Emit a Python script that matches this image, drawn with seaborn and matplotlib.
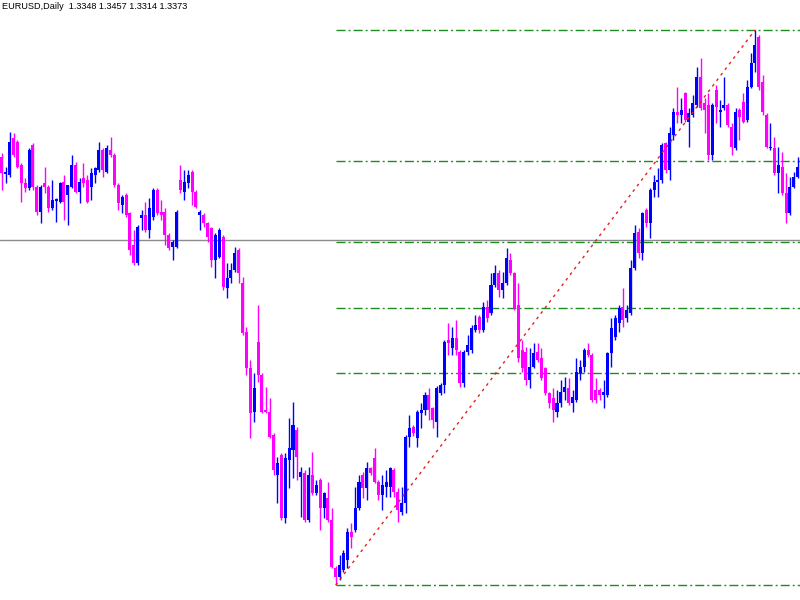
import numpy as np
import pandas as pd
import matplotlib
matplotlib.use("Agg")
import matplotlib.pyplot as plt
import seaborn as sns

symbol_label = "EURUSD,Daily"
header_ohlc = [1.3348, 1.3457, 1.3314, 1.3373]
bid_price = 1.3373
fib_ratios = [0.0, 0.382, 0.5, 0.618, 0.764, 1.0]

opens = [1.3729, 1.3656, 1.3651, 1.3811, 1.3793, 1.3694, 1.3617, 1.3596, 1.3780, 1.3600,
         1.3492, 1.3617, 1.3600, 1.3510, 1.3540, 1.3535, 1.3621, 1.3565, 1.3600, 1.3694,
         1.3578, 1.3639, 1.3630, 1.3600, 1.3651, 1.3673, 1.3759, 1.3664, 1.3759, 1.3737,
         1.3608, 1.3522, 1.3565, 1.3488, 1.3350, 1.3273, 1.3467, 1.3479, 1.3415, 1.3471,
         1.3587, 1.3492, 1.3492, 1.3393, 1.3342, 1.3342, 1.3630, 1.3578, 1.3617, 1.3664,
         1.3578, 1.3479, 1.3479, 1.3445, 1.3424, 1.3286, 1.3299, 1.3385, 1.3166, 1.3209,
         1.3243, 1.3329, 1.3187, 1.2976, 1.2822, 1.2632, 1.2933, 1.2791, 1.2641, 1.2632,
         1.2533, 1.2361, 1.2447, 1.2177, 1.2426, 1.2469, 1.2555, 1.2353, 1.2370, 1.2168,
         1.2361, 1.2284, 1.2340, 1.2220, 1.2263, 1.2168, 1.1962, 1.1923, 1.1953, 1.1996,
         1.2116, 1.2125, 1.2220, 1.2361, 1.2306, 1.2392, 1.2435, 1.2331, 1.2275, 1.2310,
         1.2310, 1.2383, 1.2288, 1.2202, 1.2241, 1.2525, 1.2568, 1.2521, 1.2628, 1.2641,
         1.2705, 1.2650, 1.2589, 1.2714, 1.2748, 1.2942, 1.2908, 1.2951, 1.2890, 1.2757,
         1.2890, 1.2899, 1.2985, 1.3041, 1.2985, 1.3084, 1.3058, 1.3178, 1.3230, 1.3157,
         1.3187, 1.3286, 1.3230, 1.3092, 1.2899, 1.2890, 1.2770, 1.2826, 1.2890, 1.2865,
         1.2822, 1.2714, 1.2693, 1.2632, 1.2671, 1.2718, 1.2736, 1.2671, 1.2684, 1.2800,
         1.2826, 1.2899, 1.2877, 1.2727, 1.2727, 1.2705, 1.2705, 1.2886, 1.2955, 1.3015,
         1.3084, 1.3037, 1.3058, 1.3252, 1.3406, 1.3316, 1.3501, 1.3445, 1.3587, 1.3621,
         1.3630, 1.3789, 1.3673, 1.3823, 1.3922, 1.3909, 1.4004, 1.3879, 1.3909, 1.3952,
         1.4073, 1.3961, 1.3952, 1.3737, 1.4017, 1.3922, 1.3940, 1.3952, 1.3858, 1.3768,
         1.3931, 1.3965, 1.3888, 1.4030, 1.4133, 1.4245, 1.4051, 1.3909, 1.3768, 1.3768,
         1.3660, 1.3686, 1.3574, 1.3488, 1.3600, 1.3643]

highs = [1.3746, 1.3686, 1.3836, 1.3832, 1.3802, 1.3703, 1.3639, 1.3768, 1.3789, 1.3608,
         1.3608, 1.3686, 1.3608, 1.3630, 1.3553, 1.3621, 1.3651, 1.3608, 1.3737, 1.3707,
         1.3639, 1.3703, 1.3651, 1.3682, 1.3686, 1.3793, 1.3768, 1.3780, 1.3815, 1.3746,
         1.3617, 1.3565, 1.3574, 1.3492, 1.3415, 1.3436, 1.3501, 1.3535, 1.3553, 1.3596,
         1.3596, 1.3544, 1.3510, 1.3402, 1.3372, 1.3501, 1.3694, 1.3673, 1.3673, 1.3673,
         1.3587, 1.3501, 1.3488, 1.3449, 1.3428, 1.3402, 1.3424, 1.3393, 1.3273, 1.3273,
         1.3342, 1.3338, 1.3213, 1.2998, 1.2856, 1.2800, 1.3092, 1.2800, 1.2740, 1.2693,
         1.2542, 1.2439, 1.2456, 1.2456, 1.2607, 1.2675, 1.2568, 1.2396, 1.2383, 1.2396,
         1.2460, 1.2340, 1.2349, 1.2288, 1.2331, 1.2220, 1.1970, 1.2017, 1.2039, 1.2134,
         1.2155, 1.2310, 1.2361, 1.2374, 1.2417, 1.2396, 1.2478, 1.2340, 1.2361, 1.2383,
         1.2396, 1.2392, 1.2306, 1.2310, 1.2533, 1.2619, 1.2576, 1.2641, 1.2671, 1.2718,
         1.2736, 1.2654, 1.2744, 1.2757, 1.2942, 1.3015, 1.2998, 1.3028, 1.2899, 1.2899,
         1.2963, 1.3006, 1.3049, 1.3049, 1.3105, 1.3114, 1.3230, 1.3264, 1.3243, 1.3234,
         1.3338, 1.3316, 1.3234, 1.3187, 1.2942, 1.2912, 1.2908, 1.2929, 1.2929, 1.2908,
         1.2826, 1.2718, 1.2736, 1.2727, 1.2770, 1.2783, 1.2779, 1.2727, 1.2865, 1.2856,
         1.2908, 1.2929, 1.2886, 1.2779, 1.2736, 1.2770, 1.2890, 1.3037, 1.3049, 1.3092,
         1.3166, 1.3092, 1.3286, 1.3436, 1.3424, 1.3492, 1.3510, 1.3596, 1.3651, 1.3682,
         1.3789, 1.3793, 1.3858, 1.3940, 1.4030, 1.3983, 1.4008, 1.3940, 1.3995, 1.4116,
         1.4155, 1.3983, 1.4004, 1.3961, 1.4038, 1.3974, 1.4073, 1.3961, 1.3875, 1.3940,
         1.3940, 1.4004, 1.4060, 1.4176, 1.4275, 1.4253, 1.4081, 1.3918, 1.3875, 1.3815,
         1.3772, 1.3750, 1.3660, 1.3643, 1.3664, 1.3729]

lows = [1.3587, 1.3617, 1.3643, 1.3729, 1.3682, 1.3535, 1.3578, 1.3587, 1.3587, 1.3479,
        1.3445, 1.3574, 1.3492, 1.3501, 1.3449, 1.3531, 1.3458, 1.3436, 1.3596, 1.3574,
        1.3531, 1.3600, 1.3531, 1.3544, 1.3617, 1.3664, 1.3643, 1.3660, 1.3729, 1.3600,
        1.3501, 1.3488, 1.3471, 1.3307, 1.3264, 1.3264, 1.3415, 1.3406, 1.3381, 1.3458,
        1.3479, 1.3458, 1.3350, 1.3329, 1.3286, 1.3338, 1.3574, 1.3544, 1.3596, 1.3522,
        1.3510, 1.3415, 1.3428, 1.3363, 1.3256, 1.3209, 1.3295, 1.3157, 1.3123, 1.3187,
        1.3234, 1.3187, 1.2963, 1.2791, 1.2521, 1.2589, 1.2761, 1.2628, 1.2628, 1.2521,
        1.2361, 1.2241, 1.2168, 1.2155, 1.2306, 1.2349, 1.2340, 1.2181, 1.2159, 1.2159,
        1.2275, 1.2275, 1.2125, 1.2177, 1.2159, 1.1962, 1.1888, 1.1910, 1.1944, 1.1962,
        1.2048, 1.2116, 1.2211, 1.2263, 1.2254, 1.2361, 1.2327, 1.2254, 1.2211, 1.2267,
        1.2267, 1.2267, 1.2159, 1.2189, 1.2198, 1.2482, 1.2529, 1.2482, 1.2564, 1.2619,
        1.2598, 1.2564, 1.2525, 1.2705, 1.2714, 1.2877, 1.2877, 1.2877, 1.2740, 1.2740,
        1.2877, 1.2886, 1.2976, 1.2972, 1.2976, 1.3019, 1.3049, 1.3170, 1.3127, 1.3123,
        1.3178, 1.3221, 1.3071, 1.2847, 1.2804, 1.2748, 1.2736, 1.2822, 1.2847, 1.2770,
        1.2705, 1.2650, 1.2589, 1.2611, 1.2654, 1.2684, 1.2662, 1.2632, 1.2675, 1.2770,
        1.2804, 1.2869, 1.2675, 1.2671, 1.2684, 1.2650, 1.2697, 1.2826, 1.2942, 1.2976,
        1.2998, 1.3019, 1.3049, 1.3243, 1.3295, 1.3286, 1.3428, 1.3381, 1.3557, 1.3557,
        1.3617, 1.3660, 1.3630, 1.3802, 1.3875, 1.3875, 1.3879, 1.3772, 1.3901, 1.3944,
        1.3931, 1.3832, 1.3716, 1.3716, 1.3875, 1.3858, 1.3931, 1.3858, 1.3737, 1.3759,
        1.3802, 1.3875, 1.3879, 1.4026, 1.4094, 1.4017, 1.3909, 1.3768, 1.3759, 1.3651,
        1.3574, 1.3565, 1.3445, 1.3479, 1.3596, 1.3639]

closes = [1.3660, 1.3664, 1.3793, 1.3737, 1.3686, 1.3617, 1.3596, 1.3759, 1.3600, 1.3492,
          1.3600, 1.3600, 1.3510, 1.3544, 1.3548, 1.3617, 1.3535, 1.3608, 1.3694, 1.3578,
          1.3621, 1.3617, 1.3535, 1.3660, 1.3682, 1.3759, 1.3673, 1.3768, 1.3737, 1.3608,
          1.3531, 1.3557, 1.3479, 1.3329, 1.3273, 1.3428, 1.3479, 1.3415, 1.3510, 1.3587,
          1.3488, 1.3479, 1.3393, 1.3338, 1.3363, 1.3492, 1.3587, 1.3621, 1.3651, 1.3578,
          1.3514, 1.3492, 1.3445, 1.3385, 1.3286, 1.3393, 1.3415, 1.3170, 1.3209, 1.3243,
          1.3316, 1.3230, 1.2972, 1.2822, 1.2628, 1.2736, 1.2791, 1.2632, 1.2632, 1.2525,
          1.2383, 1.2413, 1.2177, 1.2435, 1.2478, 1.2576, 1.2439, 1.2374, 1.2168, 1.2361,
          1.2284, 1.2318, 1.2220, 1.2284, 1.2168, 1.1966, 1.1923, 1.1974, 1.2026, 1.2116,
          1.2095, 1.2220, 1.2331, 1.2306, 1.2392, 1.2370, 1.2331, 1.2275, 1.2318, 1.2331,
          1.2392, 1.2288, 1.2211, 1.2241, 1.2525, 1.2564, 1.2542, 1.2632, 1.2641, 1.2705,
          1.2641, 1.2598, 1.2736, 1.2748, 1.2933, 1.2929, 1.2951, 1.2899, 1.2757, 1.2890,
          1.2920, 1.2994, 1.3006, 1.2985, 1.3084, 1.3037, 1.3178, 1.3230, 1.3157, 1.3187,
          1.3295, 1.3230, 1.3080, 1.2865, 1.2822, 1.2770, 1.2826, 1.2886, 1.2856, 1.2779,
          1.2714, 1.2671, 1.2641, 1.2671, 1.2718, 1.2740, 1.2671, 1.2697, 1.2804, 1.2826,
          1.2899, 1.2877, 1.2684, 1.2684, 1.2705, 1.2718, 1.2886, 1.2994, 1.3037, 1.3080,
          1.3028, 1.3071, 1.3252, 1.3402, 1.3316, 1.3488, 1.3445, 1.3587, 1.3621, 1.3630,
          1.3780, 1.3673, 1.3832, 1.3922, 1.3909, 1.3931, 1.3888, 1.3918, 1.3961, 1.4073,
          1.3940, 1.3931, 1.3737, 1.3952, 1.3944, 1.3931, 1.3952, 1.3866, 1.3772, 1.3922,
          1.3901, 1.3879, 1.4030, 1.4133, 1.4210, 1.4030, 1.3922, 1.3772, 1.3772, 1.3660,
          1.3694, 1.3574, 1.3488, 1.3600, 1.3643, 1.3686]

df = pd.DataFrame({"open": opens, "high": highs, "low": lows, "close": closes})
df["bar"] = np.arange(len(df))
up_color = "#0000ff"
down_color = "#ff00ff"
df["color"] = np.where(df["close"] >= df["open"], up_color, down_color)

sns.set_theme(style="white")
plt.rcParams["font.family"] = ["Liberation Sans", "DejaVu Sans"]

fig = plt.figure(figsize=(8, 6), dpi=100)
ax = fig.add_axes([0, 0, 1, 1])
ax.set_facecolor("white")

# bid line
ax.axhline(bid_price, color="#8c8c8c", linewidth=1.0, zorder=1)

# fibonacci retracement from swing low to swing high
i_low = int(df["low"].idxmin())
i_high = int(df["high"].idxmax())
p_low = df.loc[i_low, "low"]
p_high = df.loc[i_high, "high"]
x_right = len(df) + 5
for r in fib_ratios:
    lvl = p_low + r * (p_high - p_low)
    ax.hlines(lvl, i_low, x_right, color="#1e8c1e", linewidth=1.0,
              linestyles=[(0, (6.5, 2.2, 1.4, 2.2))], zorder=1)

# candles: wicks then bodies
ax.vlines(df["bar"], df["low"], df["high"], colors=df["color"], linewidth=1.0, zorder=2)
body_low = np.minimum(df["open"], df["close"])
body_h = np.maximum(np.abs(df["close"] - df["open"]), 0.0005)
ax.bar(df["bar"], body_h, bottom=body_low, width=0.78, color=df["color"],
       linewidth=0, zorder=3)

# diagonal trend line of the fibo object
trend = pd.DataFrame({"bar": [i_low, i_high], "price": [p_low, p_high]})
sns.lineplot(data=trend, x="bar", y="price", ax=ax, color="#e02020",
             linewidth=1.0, linestyle=(0, (2.0, 3.0)), zorder=4)

ax.set_xlim(-0.48, 205.6)
ax.set_ylim(1.1824, 1.4404)
ax.set_xticks([])
ax.set_yticks([])
ax.set_xlabel("")
ax.set_ylabel("")
for s in ax.spines.values():
    s.set_visible(False)

header = symbol_label + "  " + " ".join(f"{v:.4f}" for v in header_ohlc)
fig.text(0.003, 0.997, header, ha="left", va="top", fontsize=6.6, color="black")

fig.savefig("out.png", dpi=100, facecolor="white")
